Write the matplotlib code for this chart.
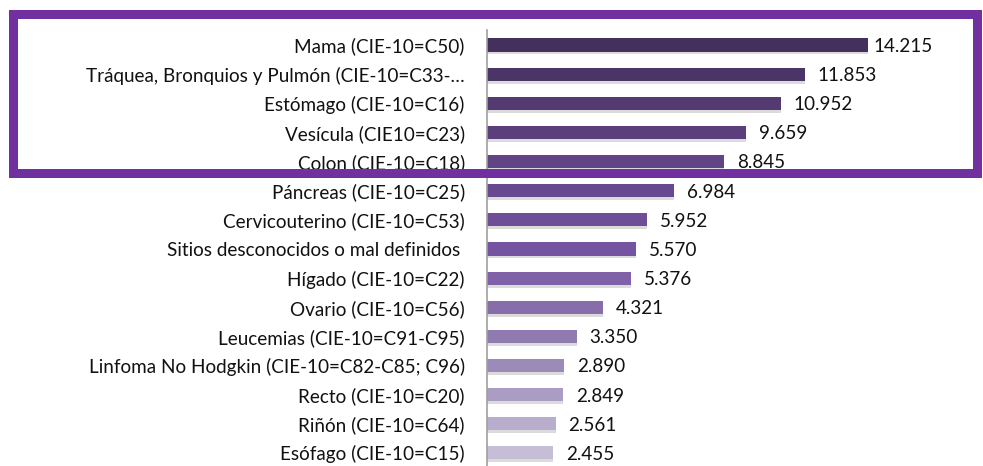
"""Tumores malignos: barras horizontales con recuadro de los 5 primeros"""

import matplotlib
matplotlib.use('Agg')
import matplotlib.pyplot as plt
import numpy as np
from matplotlib.colors import LinearSegmentedColormap
from matplotlib.patches import Rectangle

# Datos
categorias = [
    'Mama (CIE-10=C50)',
    'Tráquea, Bronquios y Pulmón (CIE-10=C33-…',
    'Estómago (CIE-10=C16)',
    'Vesícula (CIE10=C23)',
    'Colon (CIE-10=C18)',
    'Páncreas (CIE-10=C25)',
    'Cervicouterino (CIE-10=C53)',
    'Sitios desconocidos o mal definidos ',
    'Hígado (CIE-10=C22)',
    'Ovario (CIE-10=C56)',
    'Leucemias (CIE-10=C91-C95)',
    'Linfoma No Hodgkin (CIE-10=C82-C85; C96)',
    'Recto (CIE-10=C20)',
    'Riñón (CIE-10=C64)',
    'Esófago (CIE-10=C15)',
]
valores = [14215, 11853, 10952, 9659, 8845, 6984, 5952, 5570,
           5376, 4321, 3350, 2890, 2849, 2561, 2455]

FUENTE = ['Lato', 'DejaVu Sans']
BORDE = '#7030A0'
TAM = 13.6


def fmt_miles(v):
    return f'{v:,}'.replace(',', '.')


fig = plt.figure(figsize=(9.83, 4.66), dpi=100)
ax = fig.add_axes([487 / 983, 0, 1 - 487 / 983, 436 / 466])

y = np.arange(len(valores))
cmap = LinearSegmentedColormap.from_list(
    'morado', ['#44305C', '#5E4282', '#7453A0', '#9582B4', '#C6BED6'])
colores = [cmap(i / (len(valores) - 1)) for i in y]

# sombra
ax.barh(y + 0.1, valores, height=0.45, color='#9a9a9a', alpha=0.35, zorder=1)
ax.barh(y, valores, height=0.45, color=colores, zorder=2)

for i, v in enumerate(valores):
    desplaz = 180 if i == 0 else 480
    ax.text(v + desplaz, i + 0.05, fmt_miles(v), va='center', ha='left',
            fontsize=TAM, family=FUENTE, color='#111111')

ax.set_xlim(0, 18500)
ax.set_ylim(len(valores) - 1 + 0.45, -0.515)
ax.set_yticks(y)
ax.set_yticklabels(categorias, fontsize=TAM, family=FUENTE, color='#111111')
ax.tick_params(axis='y', length=0, pad=16)
ax.set_xticks([])
for lado in ['top', 'right', 'bottom']:
    ax.spines[lado].set_visible(False)
ax.spines['left'].set_color('#a0a0a0')
ax.spines['left'].set_linewidth(1.2)

# recuadro morado
ancho_px = 9
rect = Rectangle((13 / 983, 1 - 172.5 / 466), (977 - 13) / 983, (172.5 - 14) / 466,
                 transform=fig.transFigure, fill=False, edgecolor=BORDE,
                 linewidth=ancho_px * 72 / 100, zorder=10)
fig.patches.append(rect)

fig.savefig('out.png', dpi=100)
